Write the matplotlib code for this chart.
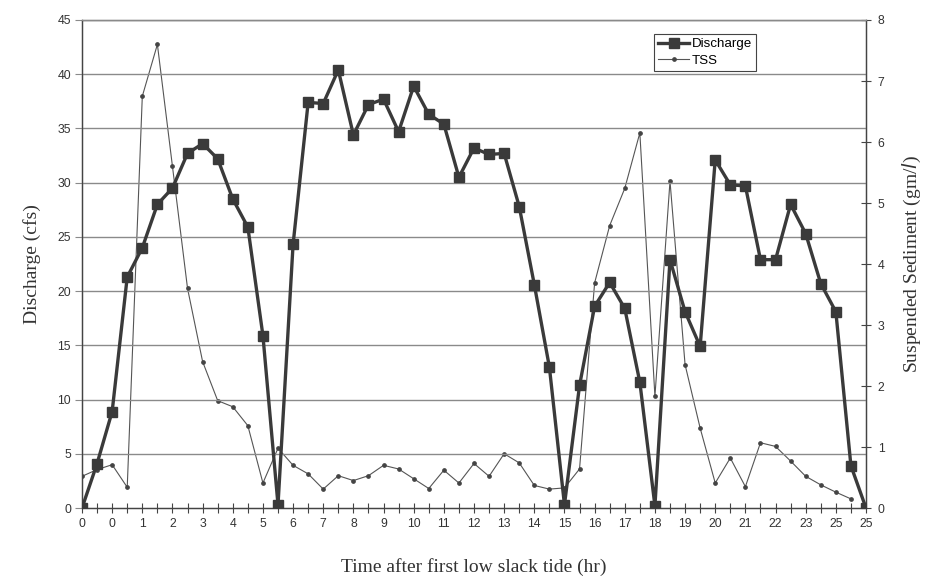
import numpy as np
import matplotlib
matplotlib.use("Agg")
import matplotlib.pyplot as plt

# category labels (every second category is labelled)
tick_labels = ["0", "0", "1", "2", "3", "4", "5", "6", "7", "8", "9", "10", "11", "12",
               "13", "14", "15", "16", "17", "18", "19", "20", "21", "22", "23", "25", "25"]

discharge = [0, 4.1, 8.9, 21.3, 24.0, 28.0, 29.5, 32.7, 33.6, 32.2, 28.5, 25.9, 15.9, 0.3,
             24.3, 37.4, 37.3, 40.4, 34.4, 37.2, 37.7, 34.7, 38.9, 36.3, 35.4, 30.5, 33.2,
             32.6, 32.7, 27.8, 20.6, 13.0, 0.3, 11.3, 18.6, 20.8, 18.4, 11.6, 0.2, 22.9,
             18.1, 14.9, 32.1, 29.8, 29.7, 22.9, 22.9, 28.0, 25.3, 20.7, 18.1, 3.9, 0]

tss = [0.52, 0.63, 0.71, 0.34, 6.75, 7.6, 5.6, 3.6, 2.4, 1.76, 1.66, 1.35, 0.41, 0.98,
       0.70, 0.56, 0.31, 0.53, 0.45, 0.53, 0.70, 0.64, 0.48, 0.32, 0.62, 0.41, 0.73,
       0.52, 0.89, 0.74, 0.37, 0.31, 0.33, 0.64, 3.69, 4.63, 5.24, 6.15, 1.83, 5.36,
       2.35, 1.31, 0.41, 0.82, 0.35, 1.07, 1.01, 0.77, 0.52, 0.38, 0.26, 0.15, np.nan]

x = np.arange(len(discharge))

fig = plt.figure(figsize=(9.35, 5.83), dpi=100)
ax = fig.add_axes([0.0877, 0.1286, 0.8385, 0.8371])
ax2 = ax.twinx()

line_col = "#3a3a3a"
grid_col = "#8a8a8a"

ax.set_xlim(0, len(discharge) - 1)
ax.set_ylim(0, 45)
ax.set_yticks(np.arange(0, 46, 5))
for v in np.arange(5, 46, 5):
    ax.axhline(v, color=grid_col, lw=1.0, zorder=0)

l1, = ax.plot(x, discharge, color=line_col, lw=2.4, marker="s", markersize=6.5,
              markerfacecolor=line_col, markeredgecolor=line_col, label="Discharge", zorder=3)
l2, = ax2.plot(x, tss, color="#555555", lw=0.8, marker="o", markersize=2.4,
               markerfacecolor="#444444", markeredgecolor="#444444", label="TSS", zorder=2)

ax2.set_ylim(0, 8)
ax2.set_yticks(np.arange(0, 9, 1))
ax.set_zorder(ax2.get_zorder() + 1)
ax.patch.set_visible(False)

ax.set_xticks(x)
labels = [tick_labels[i // 2] if i % 2 == 0 else "" for i in x]
ax.set_xticklabels(labels)

for lab in ax.get_xticklabels() + ax.get_yticklabels() + ax2.get_yticklabels():
    lab.set_fontfamily("Liberation Sans")
    lab.set_fontsize(8.8)
    lab.set_color("#333333")

ax.tick_params(axis="x", direction="inout", length=7, width=0.8, color="#444444", pad=4)
ax.tick_params(axis="y", direction="out", length=5, width=0.8, color=grid_col, pad=3)
ax2.tick_params(axis="y", direction="inout", length=7, width=0.8, color="#444444", pad=5)

for a in (ax, ax2):
    for s in a.spines.values():
        s.set_color("#444444")
        s.set_linewidth(0.9)
ax.spines["top"].set_color(grid_col)

ax.set_ylabel("Discharge (cfs)", family="Liberation Serif", fontsize=14, color="#333333", labelpad=12)
ax2.set_ylabel("Suspended Sediment (gm/$\\mathit{l}$)", family="Liberation Serif", fontsize=14,
               color="#333333", labelpad=12)
ax.set_xlabel("Time after first low slack tide (hr)", family="Liberation Serif", fontsize=14,
              color="#333333", labelpad=20)

leg = ax.legend(handles=[l1, l2], loc="upper left", bbox_to_anchor=(0.73, 0.971),
                frameon=True, fancybox=False, edgecolor="#444444", framealpha=1,
                prop=dict(family="Liberation Sans", size=9.6), handlelength=2.3,
                borderpad=0.3, labelspacing=0.3, handletextpad=0.2, borderaxespad=0)
leg.get_frame().set_linewidth(0.8)

fig.savefig("out.png", dpi=100, facecolor="white")
